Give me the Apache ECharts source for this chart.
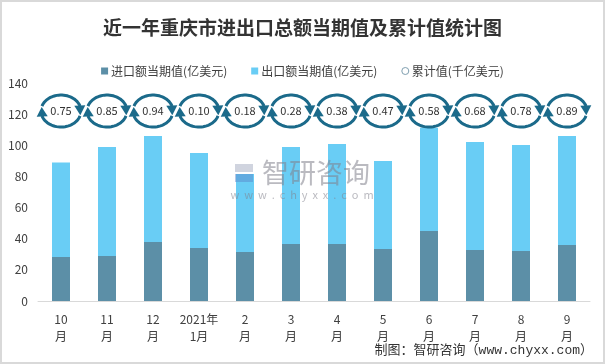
<!DOCTYPE html>
<html>
<head>
<meta charset="utf-8">
<style>
html,body{margin:0;padding:0;background:#fff;}
#chart{width:605px;height:364px;}
</style>
<script src="https://cdn.jsdelivr.net/npm/echarts@6/dist/echarts.min.js"></script>
</head>
<body>
<div id="chart"></div>
<script>
const months = ['10\n月','11\n月','12\n月','2021年\n1月','2\n月','3\n月','4\n月','5\n月','6\n月','7\n月','8\n月','9\n月'];
const importVals = [28.3, 28.9, 37.9, 34.0, 31.5, 36.6, 36.6, 33.4, 45.0, 32.8, 32.1, 36.0];
const exportVals = [60.7, 70.0, 68.1, 61.0, 50.1, 62.3, 64.2, 56.5, 66.3, 69.3, 68.1, 70.0];
const cumulativeVals = [0.75, 0.85, 0.94, 0.10, 0.18, 0.28, 0.38, 0.47, 0.58, 0.68, 0.78, 0.89];
const yTicks = [0, 20, 40, 60, 80, 100, 120, 140];

const FONT = '"Noto Sans CJK SC", "Noto Sans", sans-serif';
const CIRCLE_ROW = 122; // vertical placement of the cumulative markers (layout constant)
const ARROW_COLOR = '#1b6a8a';

const chart = echarts.init(document.getElementById('chart'), null, {renderer: 'canvas'});

function renderCycle(params, api) {
  const c = api.coord([api.value(0), api.value(1)]);
  const a = 20, b = 16, w = 5.5;
  const pt = t => [c[0] + a * Math.cos(t * Math.PI / 180), c[1] + b * Math.sin(t * Math.PI / 180)];
  const arc = (t0, t1) => { const p = []; for (let t = t0; t <= t1; t += 5) p.push(pt(t)); p.push(pt(t1)); return p; };
  const head = (tb, tt) => {
    const B = pt(tb), T = pt(tt);
    const dx = T[0] - B[0], dy = T[1] - B[1];
    const L = Math.hypot(dx, dy);
    const nx = -dy / L * w, ny = dx / L * w;
    return [T, [B[0] + nx, B[1] + ny], [B[0] - nx, B[1] - ny]];
  };
  const v = api.value(2);
  return {
    type: 'group',
    children: [
      {type: 'polyline', shape: {points: arc(198, 342)}, style: {stroke: ARROW_COLOR, lineWidth: 3, fill: null}},
      {type: 'polygon', shape: {points: head(340, 15)}, style: {fill: ARROW_COLOR}},
      {type: 'polyline', shape: {points: arc(18, 162)}, style: {stroke: ARROW_COLOR, lineWidth: 3, fill: null}},
      {type: 'polygon', shape: {points: head(160, 195)}, style: {fill: ARROW_COLOR}},
      {type: 'text', style: {text: v.toFixed(2), x: c[0], y: c[1], align: 'center', verticalAlign: 'middle', fontSize: 11, fill: '#333', fontFamily: FONT}}
    ]
  };
}

const option = {
  animation: false,
  backgroundColor: '#fff',
  title: {
    text: '近一年重庆市进出口总额当期值及累计值统计图',
    left: 'center', top: 13,
    textStyle: {fontSize: 19, fontWeight: 'bold', color: '#333', fontFamily: FONT}
  },
  legend: {
    top: 60, left: 'center',
    itemWidth: 7, itemHeight: 7, itemGap: 24,
    textStyle: {fontSize: 12, color: '#404040', fontFamily: FONT, padding: [0, 0, 0, -2]},
    data: [
      {name: '进口额当期值(亿美元)', icon: 'rect'},
      {name: '出口额当期值(亿美元)', icon: 'rect'},
      {name: '累计值(千亿美元)', icon: 'circle', itemStyle: {color: '#fff', borderColor: '#7f9fb0', borderWidth: 1}}
    ]
  },
  grid: {left: 38, right: 15, top: 83, bottom: 63},
  xAxis: {
    type: 'category',
    data: months,
    axisLine: {lineStyle: {color: '#d9d9d9'}},
    axisTick: {show: false},
    axisLabel: {color: '#404040', fontSize: 12, lineHeight: 17, margin: 10, fontFamily: FONT, interval: 0}
  },
  yAxis: {
    type: 'value',
    min: yTicks[0], max: yTicks[yTicks.length - 1], interval: 20,
    splitLine: {show: false},
    axisLine: {show: false},
    axisTick: {show: false},
    axisLabel: {color: '#404040', fontSize: 12, margin: 10, fontFamily: FONT}
  },
  series: [
    {
      name: '进口额当期值(亿美元)', type: 'bar', stack: 'total',
      data: importVals, barWidth: 18,
      itemStyle: {color: '#5c8fa7'}
    },
    {
      name: '出口额当期值(亿美元)', type: 'bar', stack: 'total',
      data: exportVals, barWidth: 18,
      itemStyle: {color: '#69cdf5'}
    },
    {
      name: '累计值(千亿美元)', type: 'custom',
      data: cumulativeVals.map((v, i) => [i, CIRCLE_ROW, v]),
      encode: {x: 0, y: 1},
      renderItem: renderCycle,
      itemStyle: {color: '#fff', borderColor: '#7f9fb0'},
      z: 5
    }
  ],
  graphic: [
    {type: 'rect', shape: {x: 1, y: 1, width: 603, height: 362}, style: {fill: null, stroke: '#d9d9d9', lineWidth: 2}, z: 100, silent: true},
    {type: 'rect', shape: {x: 235, y: 164, width: 18, height: 8}, style: {fill: 'rgba(150,160,185,0.45)'}, z: 50, silent: true},
    {type: 'rect', shape: {x: 235, y: 174, width: 18, height: 8}, style: {fill: 'rgba(90,130,200,0.45)'}, z: 50, silent: true},
    {type: 'text', style: {text: '智研咨询', x: 262, y: 173, fontSize: 27, fill: 'rgba(130,130,140,0.55)', fontFamily: FONT, verticalAlign: 'middle'}, z: 50, silent: true},
    {type: 'text', style: {text: 'w  w  w  .  c  h  y  x  x  .  c  o  m', x: 302, y: 195, align: 'center', fontSize: 11, fill: 'rgba(130,130,140,0.55)', fontFamily: FONT, verticalAlign: 'middle'}, z: 50, silent: true},
    {type: 'text', style: {text: '制图：智研咨询（www.chyxx.com）', x: 593, y: 351, align: 'right', verticalAlign: 'middle', fontSize: 13, fill: '#333', fontFamily: '"Liberation Mono", "Noto Sans CJK SC", monospace'}, z: 50, silent: true}
  ]
};
chart.setOption(option);
</script>
</body>
</html>
